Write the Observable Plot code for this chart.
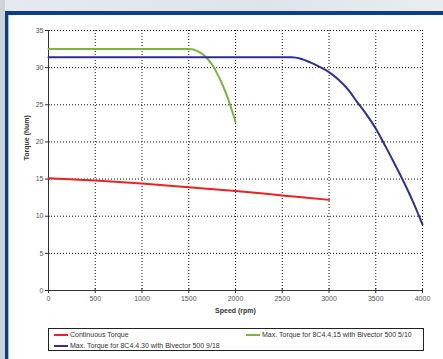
<!DOCTYPE html>
<html>
<head>
<meta charset="utf-8">
<script src="https://cdn.jsdelivr.net/npm/d3@7"></script>
<script src="https://cdn.jsdelivr.net/npm/@observablehq/plot@0.6"></script>
<style>
  html, body { margin: 0; padding: 0; overflow: hidden; background: #e6eaef; }
  body { width: 443px; height: 359px; font-family: "Liberation Sans", Arial, sans-serif; }
  #wrap { position: relative; width: 443px; height: 359px; background: linear-gradient(90deg, #cfd3d8 0px, #cfd3d8 5px, #e6eaef 5px, #dfe4ea 60%, #e9edf1 100%); overflow: hidden; }
  #frame { position: absolute; left: 5px; top: 11px; width: 438px; height: 348px; box-sizing: border-box; border-top: 4px solid #0b3f8c; border-left: 3px solid #0b3f8c; background: #fff; }
  #edge { position: absolute; left: 8px; top: 15px; width: 1px; height: 344px; background: #9fbce6; }
  #chart { position: absolute; left: 0; top: 0; width: 443px; height: 359px; }
  #legend { position: absolute; left: 48px; top: 328px; width: 374px; height: 21px; border: 1px solid #222; background: #fff; font-size: 7px; color: #333; }
  .item { position: absolute; display: flex; align-items: center; white-space: nowrap; line-height: 8px; }
  .sw { display: inline-block; width: 14px; height: 2px; margin-right: 2px; }
</style>
</head>
<body>
<div id="wrap">
  <div id="frame"></div>
  <div id="edge"></div>
  <div id="chart"></div>
  <div id="legend"></div>
</div>
<script>
const seriesNames = [
  "Continuous Torque",
  "Max. Torque for 8C4.4.15 with Bivector 500 5/10",
  "Max. Torque for 8C4.4.30 with Bivector 500 9/18"
];
const seriesColors = ["#ec2228", "#7db33e", "#2e3192"];

const contSpeed  = [0, 500, 1000, 1500, 2000, 2500, 3000];
const contTorque = [15.1, 14.8, 14.4, 13.9, 13.4, 12.8, 12.2];

const max15Speed  = [0, 1500, 1550, 1600, 1650, 1700, 1750, 1800, 1850, 1900, 1950, 2000];
const max15Torque = [32.5, 32.5, 32.45, 32.2, 31.8, 31.2, 30.4, 29.3, 28.0, 26.5, 24.7, 22.7];

const max30Speed  = [0, 2600, 2700, 2800, 2900, 3000, 3100, 3200, 3300, 3400, 3500, 3600, 3700, 3800, 3900, 4000];
const max30Torque = [31.4, 31.4, 31.2, 30.7, 30.1, 29.4, 28.4, 27.1, 25.4, 23.7, 21.8, 19.5, 17.1, 14.6, 11.9, 8.9];

const xTicks = [0, 500, 1000, 1500, 2000, 2500, 3000, 3500, 4000];
const yTicks = [0, 5, 10, 15, 20, 25, 30, 35];

const toRows = (xs, ys, s) => xs.map((x, i) => ({speed: x, torque: ys[i], series: s}));
const cont = toRows(contSpeed, contTorque, seriesNames[0]);
const m15 = toRows(max15Speed, max15Torque, seriesNames[1]);
const m30 = toRows(max30Speed, max30Torque, seriesNames[2]);

const chart = Plot.plot({
  width: 443,
  height: 359,
  marginLeft: 48,
  marginRight: 21,
  marginTop: 30,
  marginBottom: 69,
  style: {background: "transparent", fontFamily: "Liberation Sans, Arial, sans-serif", fontSize: "7px"},
  x: {domain: [0, 4000]},
  y: {domain: [0, 35]},
  marks: [
    Plot.gridX(xTicks.slice(1), {stroke: "#111", strokeOpacity: 1, strokeDasharray: "1,2"}),
    Plot.gridY(yTicks.slice(1), {stroke: "#111", strokeOpacity: 1, strokeDasharray: "1,2"}),
    Plot.axisX(xTicks, {tickSize: 3, tickPadding: 3, fill: "#555", stroke: "#333", label: null, tickFormat: d => String(d)}),
    Plot.axisX(xTicks, {tickSize: -2, text: null, stroke: "#333", label: null}),
    Plot.axisY(yTicks, {tickSize: 3, tickPadding: 2, fill: "#555", stroke: "#333", label: null}),
    Plot.axisY(yTicks, {tickSize: -2, text: null, stroke: "#333", label: null}),
    Plot.ruleX([0], {stroke: "#333", strokeWidth: 1}),
    Plot.ruleY([0], {stroke: "#333", strokeWidth: 1}),
    Plot.text(["Speed (rpm)"], {frameAnchor: "bottom", dy: 22, fontWeight: "bold", fill: "#333", fontSize: 7}),
    Plot.text(["Torque (Num)"], {frameAnchor: "left", dx: -22, rotate: -90, fontWeight: "bold", fill: "#333", fontSize: 7}),
    Plot.line(cont, {x: "speed", y: "torque", stroke: seriesColors[0], strokeWidth: 2, curve: "monotone-x"}),
    Plot.line(m15, {x: "speed", y: "torque", stroke: seriesColors[1], strokeWidth: 2, curve: "monotone-x"}),
    Plot.line(m30, {x: "speed", y: "torque", stroke: seriesColors[2], strokeWidth: 2, curve: "monotone-x"})
  ]
});
document.getElementById("chart").appendChild(chart);

const legend = document.getElementById("legend");
const pos = [[5, 2], [197, 2], [5, 13]];
seriesNames.forEach((name, i) => {
  const it = document.createElement("div");
  it.className = "item";
  it.style.left = pos[i][0] + "px";
  it.style.top = pos[i][1] + "px";
  const sw = document.createElement("span");
  sw.className = "sw";
  sw.style.background = seriesColors[i];
  it.appendChild(sw);
  it.appendChild(document.createTextNode(name));
  legend.appendChild(it);
});
</script>
</body>
</html>
